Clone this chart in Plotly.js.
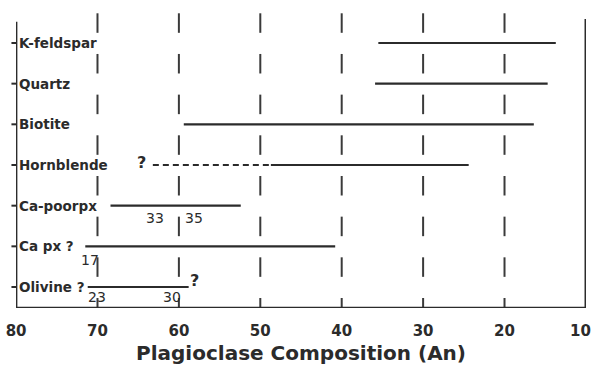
<!DOCTYPE html>
<html>
<head>
<meta charset="utf-8">
<script src="https://cdn.plot.ly/plotly-3.0.1.min.js"></script>
<style>html,body{margin:0;padding:0;background:#fff;}#chart{width:593px;height:370px;}</style>
</head>
<body>
<div id="chart"></div>
<script>
// Minerals (top to bottom)
const minerals = ['K-feldspar', 'Quartz', 'Biotite', 'Hornblende', 'Ca-poorpx', 'Ca px ?', 'Olivine ?'];
// Plagioclase composition (An) range where each mineral is present (solid line)
const rangeStart = [35.5, 35.9, 59.4, 48.7, 68.4, 71.5, 71.2];
const rangeEnd   = [13.7, 14.7, 16.4, 24.4, 52.4, 40.8, 58.8];
// Uncertain (dashed) extension for hornblende
const uncertainMineral = 'Hornblende';
const uncertainStart = 63.2;
const uncertainEnd = 48.7;
// Axis ticks
const tickValues = [80, 70, 60, 50, 40, 30, 20];
const edgeTick = 10;
const gridValues = [70, 60, 50, 40, 30, 20];

const ink = '#2b2b2b';
const fontFam = '"DejaVu Sans", Verdana, sans-serif';
const yBottom = 6.516, yTop = -0.86;

const traces = minerals.map((m, i) => ({
  x: [rangeStart[i], rangeEnd[i]],
  y: [i, i],
  mode: 'lines',
  line: {color: ink, width: 2.2},
  hoverinfo: 'skip',
  showlegend: false
}));
const hi = minerals.indexOf(uncertainMineral);
traces.push({
  x: [uncertainStart, uncertainEnd],
  y: [hi, hi],
  mode: 'lines',
  line: {color: ink, width: 2, dash: '6px,4px'},
  hoverinfo: 'skip',
  showlegend: false
});

const shapes = [];
// dashed vertical gridlines: one dash between each pair of rows
gridValues.forEach(v => {
  for (let k = -1; k < minerals.length; k++) {
    const y0 = k + 0.27, y1 = Math.min(k + 0.75, yBottom);
    shapes.push({type: 'line', xref: 'x', yref: 'y', x0: v, x1: v, y0: y0, y1: y1,
      line: {color: '#3a3a3a', width: 2}});
  }
});
// frame: left, bottom, right
shapes.push({type: 'line', xref: 'x', yref: 'y', x0: 80, x1: 80, y0: -0.52, y1: yBottom, line: {color: ink, width: 2.6}});
shapes.push({type: 'line', xref: 'x', yref: 'y', x0: 80, x1: 10, y0: yBottom, y1: yBottom, line: {color: ink, width: 2.6}});
shapes.push({type: 'line', xref: 'x', yref: 'y', x0: 10, x1: 10, y0: -0.59, y1: yBottom, line: {color: ink, width: 2.8}});
// left ticks
minerals.forEach((m, i) => {
  shapes.push({type: 'line', xref: 'paper', yref: 'y', x0: -0.008, x1: 0, y0: i, y1: i, line: {color: ink, width: 2}});
});

const annotations = minerals.map((m, i) => ({
  x: 80, y: i, xref: 'x', yref: 'y', text: m, showarrow: false,
  xanchor: 'left', yanchor: 'middle', xshift: 1,
  font: {family: fontFam, size: 13.5, color: ink, weight: 'bold'}
}));
const note = (x, y, t, size, bold) => ({x: x, y: y, xref: 'x', yref: 'y', text: t, showarrow: false,
  xanchor: 'center', yanchor: 'middle', font: {family: fontFam, size: size || 13, color: ink, weight: bold ? 'bold' : 'normal'}});
annotations.push(note(64.6, 2.95, '?', 16, true));
annotations.push(note(62.9, 4.3, '33', 14));
annotations.push(note(58.2, 4.3, '35', 14));
annotations.push(note(70.9, 5.33, '17', 14));
annotations.push(note(70.0, 6.25, '23', 14));
annotations.push(note(60.9, 6.25, '30', 14));
annotations.push(note(58.1, 5.83, '?', 16, true));
// right-edge tick label (kept inside the page)
annotations.push({x: edgeTick, y: -0.077, xref: 'x', yref: 'paper', text: String(edgeTick), showarrow: false,
  xanchor: 'center', yanchor: 'middle', xshift: -5,
  font: {family: fontFam, size: 15, color: ink, weight: 'bold'}});

const layout = {
  width: 593, height: 370,
  margin: {l: 16, r: 7, t: 8, b: 62},
  paper_bgcolor: '#fff', plot_bgcolor: '#fff',
  xaxis: {
    range: [80.01, 9.99], showgrid: false, zeroline: false, showline: false, ticks: '',
    tickvals: tickValues, ticktext: tickValues.map(String),
    tickfont: {family: fontFam, size: 15, color: ink, weight: 'bold'},
    ticklabelstandoff: 12,
    title: {text: 'Plagioclase Composition (An)', font: {family: fontFam, size: 20, color: ink, weight: 'bold'}, standoff: 6}
  },
  yaxis: {
    range: [yBottom, yTop], showgrid: false, zeroline: false, showline: false,
    showticklabels: false, ticks: ''
  },
  shapes: shapes,
  annotations: annotations
};

Plotly.newPlot('chart', traces, layout, {staticPlot: true, displayModeBar: false});
</script>
</body>
</html>
